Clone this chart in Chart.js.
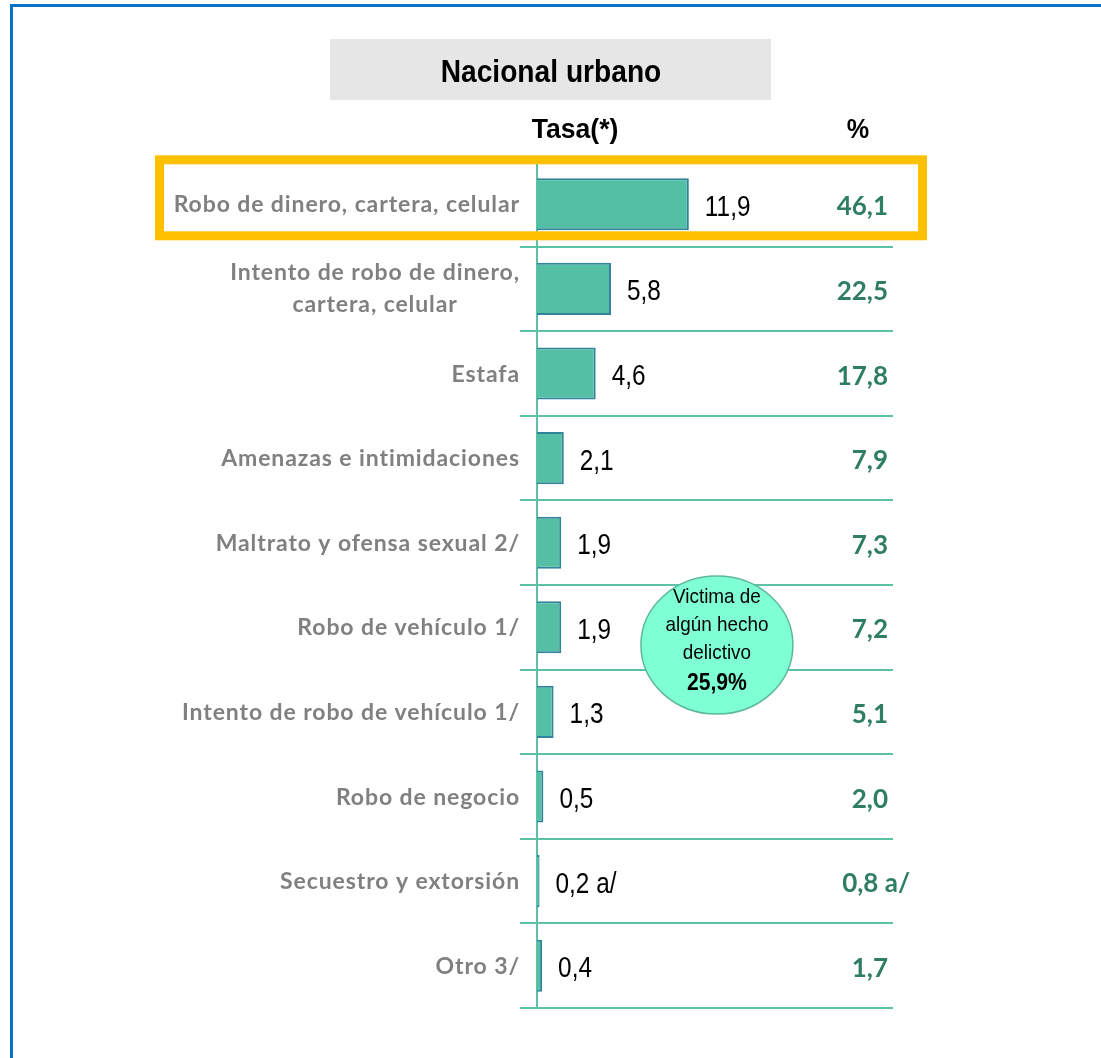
<!DOCTYPE html>
<html lang="es">
<head>
<meta charset="utf-8">
<script src="https://cdn.jsdelivr.net/npm/chart.js@4.4.1/dist/chart.umd.min.js"></script>
<style>
    html, body { margin: 0; padding: 0; background: #fff; }
    #page { position: relative; width: 1101px; height: 1058px; overflow: hidden; }
    #frame { position: absolute; left: 10px; top: 4px; right: -20px; bottom: -20px;
             border-top: 3px solid #0A72C4; border-left: 3px solid #0A72C4; }
    #titleBox { position: absolute; left: 330px; top: 39px; width: 441px; height: 61px; background: #E6E6E6; }
    #wrap { position: absolute; left: 0; top: 0; width: 1101px; height: 1058px; }
</style>
</head>
<body>
<div id="page">
    <div id="frame"></div>
    <div id="titleBox"></div>
    <div id="wrap"><canvas id="chart"></canvas></div>
</div>
<script>
// datos
const categories = [
    'Robo de dinero, cartera, celular',
    ['Intento de robo de dinero,', 'cartera, celular'],
    'Estafa',
    'Amenazas e intimidaciones',
    'Maltrato y ofensa sexual 2/',
    'Robo de vehículo 1/',
    'Intento de robo de vehículo 1/',
    'Robo de negocio',
    'Secuestro y extorsión',
    'Otro 3/'
];
const tasa = [11.9, 5.8, 4.6, 2.1, 1.9, 1.9, 1.3, 0.5, 0.2, 0.4];
const tasaNotes = ['', '', '', '', '', '', '', '', 'a/', ''];
const porcentaje = [46.1, 22.5, 17.8, 7.9, 7.3, 7.2, 5.1, 2.0, 0.8, 1.7];
const porcentajeNotes = ['', '', '', '', '', '', '', '', 'a/', ''];
const totalVictimas = 25.9;

const SANS = "'Liberation Sans', Arial, sans-serif";
const LABEL_FONT = "Lato, 'Open Sans', sans-serif";
const TEAL_LINE = '#5CC2A6';

const fmt = v => v.toFixed(1).replace('.', ',');

// texto comprimido en horizontal (imita Arial Narrow)
function narrowText(ctx, text, x, y, sx, align) {
    ctx.save();
    ctx.translate(x, y);
    ctx.scale(sx, 1);
    ctx.textAlign = align;
    ctx.fillText(text, 0, 0);
    ctx.restore();
}

// etiquetas, valores, recuadro y círculo
const overlayPlugin = {
    id: 'overlay',
    afterDatasetsDraw(chart) {
        const ctx = chart.ctx;
        const xs = chart.scales.x;
        const ys = chart.scales.y;
        const area = chart.chartArea;
        const meta = chart.getDatasetMeta(0);
        const rowH = ys.getPixelForValue(1) - ys.getPixelForValue(0);

        ctx.save();
        ctx.textBaseline = 'alphabetic';

        // encabezados
        ctx.fillStyle = '#000';
        ctx.font = 'bold 32px ' + SANS;
        narrowText(ctx, 'Nacional urbano', 551, 82, 0.88, 'center');
        ctx.font = 'bold 28px ' + SANS;
        narrowText(ctx, 'Tasa(*)', 575, 138, 0.95, 'center');
        narrowText(ctx, '%', 858, 138, 0.9, 'center');

        // categorías
        ctx.fillStyle = '#808080';
        ctx.font = 'bold 23px ' + LABEL_FONT;
        ctx.letterSpacing = '0.9px';
        const labelRight = area.left - 17;
        categories.forEach((cat, i) => {
            const y = ys.getPixelForValue(i);
            if (Array.isArray(cat)) {
                const w = Math.max(...cat.map(t => ctx.measureText(t).width));
                ctx.textAlign = 'center';
                cat.forEach((t, k) => {
                    ctx.fillText(t, labelRight - w / 2, y - 9 + k * 32);
                });
            } else {
                ctx.textAlign = 'right';
                ctx.fillText(cat, labelRight, y + 8);
            }
        });
        ctx.letterSpacing = '0px';

        // valores de la tasa
        ctx.fillStyle = '#000';
        ctx.font = '29px ' + SANS;
        meta.data.forEach((bar, i) => {
            const txt = fmt(tasa[i]) + (tasaNotes[i] ? ' ' + tasaNotes[i] : '');
            narrowText(ctx, txt, bar.x + 16, bar.y + 11.5, 0.84, 'left');
        });

        // porcentajes
        ctx.fillStyle = '#2E7D64';
        ctx.font = 'bold 26px ' + LABEL_FONT;
        const pctRight = area.right - 5;
        porcentaje.forEach((v, i) => {
            const y = ys.getPixelForValue(i);
            if (porcentajeNotes[i]) {
                ctx.textAlign = 'right';
                ctx.fillText(fmt(v) + ' ' + porcentajeNotes[i], pctRight + 22, y + 11);
            } else {
                ctx.textAlign = 'right';
                ctx.fillText(fmt(v), pctRight, y + 11);
            }
        });

        // recuadro amarillo de la primera fila
        const y0 = ys.getPixelForValue(0);
        ctx.strokeStyle = '#FFC000';
        ctx.lineWidth = 9;
        ctx.strokeRect(159.5, y0 - 44.5, 922.5 - 159.5, 76);

        // círculo de víctimas
        const cx = xs.getPixelForValue(14.1);
        const cy = ys.getPixelForValue(5) + rowH * 0.21;
        ctx.beginPath();
        ctx.ellipse(cx, cy, 76, 69, 0, 0, Math.PI * 2);
        ctx.fillStyle = '#7FFFD4';
        ctx.fill();
        ctx.lineWidth = 1.5;
        ctx.strokeStyle = '#5CB89C';
        ctx.stroke();

        ctx.fillStyle = '#000';
        ctx.font = '21px ' + SANS;
        narrowText(ctx, 'Victima de', cx, cy - 42, 0.9, 'center');
        narrowText(ctx, 'algún hecho', cx, cy - 14, 0.9, 'center');
        narrowText(ctx, 'delictivo', cx, cy + 14, 0.9, 'center');
        ctx.font = 'bold 23px ' + SANS;
        narrowText(ctx, fmt(totalVictimas) + '%', cx, cy + 45, 0.92, 'center');

        ctx.restore();
    }
};

const chart = new Chart(document.getElementById('chart'), {
    type: 'bar',
    data: {
        labels: categories,
        datasets: [{
            data: tasa,
            backgroundColor: '#55BFA5',
            borderColor: '#31849B',
            borderWidth: 2,
            borderSkipped: 'start',
            barPercentage: 0.7,
            categoryPercentage: 0.88
        }]
    },
    options: {
        indexAxis: 'y',
        responsive: true,
        maintainAspectRatio: false,
        animation: false,
        layout: { padding: { left: 0, top: 162, right: 208, bottom: 50 } },
        plugins: {
            legend: { display: false },
            tooltip: { enabled: false }
        },
        scales: {
            x: {
                display: false,
                min: 0,
                max: 27.9
            },
            y: {
                afterFit: scale => { scale.width = 537; },
                ticks: { display: false },
                grid: {
                    offset: true,
                    color: TEAL_LINE,
                    lineWidth: 2,
                    drawTicks: true,
                    tickLength: 17
                },
                border: { display: true, color: TEAL_LINE, width: 2 }
            }
        }
    },
    plugins: [overlayPlugin]
});
</script>
</body>
</html>
